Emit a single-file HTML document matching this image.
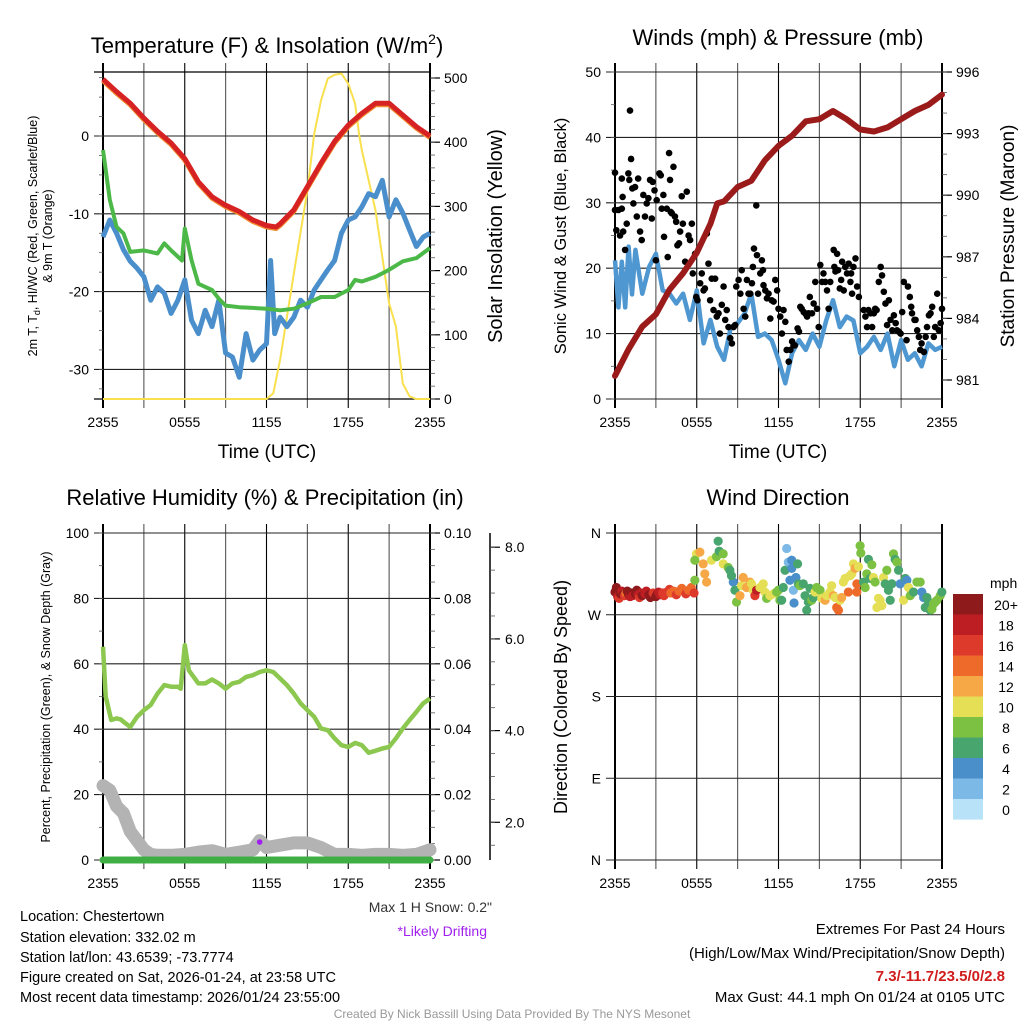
<!DOCTYPE html>
<html><head><meta charset="utf-8"><title>Mesonet Station Summary</title>
<style>
html,body{margin:0;padding:0;background:#fff;}
svg{display:block;font-family:"Liberation Sans",Arial,sans-serif;}
</style></head>
<body>
<svg id="fig" xmlns="http://www.w3.org/2000/svg" width="1024" height="1024" viewBox="0 0 1024 1024">
<rect width="1024" height="1024" fill="#fff"/>
<g id="g-temp"></g>
<g id="g-wind"></g>
<g id="g-rh"></g>
<g id="g-dir"></g>

<text x="267" y="53" font-size="22" text-anchor="middle">Temperature (F) &amp; Insolation (W/m<tspan dy="-9" font-size="14">2</tspan><tspan dy="9">)</tspan></text>
<text x="778" y="45" font-size="22" text-anchor="middle">Winds (mph) &amp; Pressure (mb)</text>
<text x="265" y="505" font-size="22" text-anchor="middle">Relative Humidity (%) &amp; Precipitation (in)</text>
<text x="778" y="505" font-size="22" text-anchor="middle">Wind Direction</text>

<text x="267" y="458" font-size="19" text-anchor="middle">Time (UTC)</text>
<text x="778" y="458" font-size="19" text-anchor="middle">Time (UTC)</text>

<text transform="translate(37,236) rotate(-90)" font-size="12.5" text-anchor="middle">2m T, T<tspan font-size="9" dy="3">d</tspan><tspan dy="-3">, HI/WC (Red, Green, Scarlet/Blue)</tspan></text>
<text transform="translate(52,236) rotate(-90)" font-size="12.5" text-anchor="middle">&amp; 9m T (Orange)</text>
<text transform="translate(502,236) rotate(-90)" font-size="20" text-anchor="middle">Solar Insolation (Yellow)</text>
<text transform="translate(566,236) rotate(-90)" font-size="16.5" text-anchor="middle">Sonic Wind &amp; Gust (Blue, Black)</text>
<text transform="translate(1014,236) rotate(-90)" font-size="19" text-anchor="middle">Station Pressure (Maroon)</text>
<text transform="translate(50,697) rotate(-90)" font-size="12.5" text-anchor="middle">Percent, Precipitation (Green), &amp; Snow Depth (Gray)</text>
<text transform="translate(567,697) rotate(-90)" font-size="18" text-anchor="middle">Direction (Colored By Speed)</text>

<text x="492" y="912" font-size="14" fill="#333" text-anchor="end">Max 1 H Snow: 0.2"</text>
<text x="487" y="936" font-size="14" fill="#a020f0" text-anchor="end">*Likely Drifting</text>

<g font-size="14.5">
<text x="20" y="921">Location: Chestertown</text>
<text x="20" y="942">Station elevation: 332.02 m</text>
<text x="20" y="962">Station lat/lon: 43.6539; -73.7774</text>
<text x="20" y="982">Figure created on Sat, 2026-01-24, at 23:58 UTC</text>
<text x="20" y="1002">Most recent data timestamp: 2026/01/24 23:55:00</text>
</g>
<g font-size="15" text-anchor="end">
<text x="1005" y="934">Extremes For Past 24 Hours</text>
<text x="1005" y="958">(High/Low/Max Wind/Precipitation/Snow Depth)</text>
<text x="1005" y="981" fill="#d01c1c" font-weight="bold">7.3/-11.7/23.5/0/2.8</text>
<text x="1005" y="1002">Max Gust: 44.1 mph On 01/24 at 0105 UTC</text>
</g>
<text x="512" y="1018" font-size="12" fill="#999" text-anchor="middle">Created By Nick Bassill Using Data Provided By The NYS Mesonet</text>
</svg>
<script>
// ---------- DATA ----------
const tempHours = [0,1,2,3,4,5,6,7,8,9,10,11,12,12.7,13,14,15,16,17,18,19,20,21,22,23,24];
const tempValues = [7.3,5.7,4.2,2.3,0.6,-0.9,-2.9,-5.9,-7.8,-8.9,-9.7,-10.8,-11.5,-11.7,-11.3,-9.5,-6.5,-3.5,-0.7,1.4,2.9,4.2,4.2,2.7,1.2,0];
const dewHours = [0,0.5,1,1.5,2,3,4,4.5,5,5.8,6,6.5,7,8,8.5,9,10,11,12,13,14,15,16,17,18,18.5,19,20,21,22,23,24];
const dewValues = [-1.8,-8.2,-11.7,-12.5,-14.9,-14.7,-15.1,-13.8,-14.7,-16,-11.9,-16,-19,-19.8,-20.9,-21.8,-22,-22.1,-22.2,-22.4,-22.2,-21.5,-20.7,-20.7,-19.8,-18.5,-18.7,-18.1,-17.2,-16.1,-15.7,-14.4];
const chillHours = [0,0.5,1,1.5,2,2.5,3,3.5,4,4.5,5,5.5,6,6.5,7,7.5,8,8.5,9,9.5,10,10.5,11,11.5,12,12.3,12.6,13,13.5,14,14.5,15,15.5,16,16.5,17,17.5,18,18.5,19,19.5,20,20.5,21,21.5,22,22.5,23,23.5,24];
const chillValues = [-13,-10.8,-12.5,-14.6,-16.1,-17,-18.1,-21.1,-19.4,-20.2,-22.8,-21.1,-18.5,-23.7,-25.4,-22.4,-24.5,-21.1,-27.9,-28.4,-31,-25.4,-28.8,-27.5,-26.7,-16,-25.4,-23.3,-24.5,-23.3,-21.1,-22,-19.8,-18.5,-17.2,-16,-12.5,-10.8,-10.4,-9.1,-7.4,-7.8,-5.7,-10.4,-8.2,-9.9,-12.1,-14.2,-13,-12.5];
const solarHours = [0,12,12.5,13,14,15,15.5,16,16.5,17,17.5,18,18.5,18.8,19,20,21,21.5,22,22.5,23,24];
const solarValues = [0,0,9,61,195,325,413,465,499,505,507,491,460,411,387,294,149,113,24,4,0,0];

const windHours = [0,0.25,0.5,0.75,1,1.25,1.5,2,2.5,3,3.5,4,4.5,5,5.5,6,6.5,7,7.5,8,8.5,9,9.5,10,10.5,11,11.5,12,12.5,13,13.5,14,14.5,15,15.5,16,16.5,17,17.5,18,18.5,19,19.5,20,20.5,21,21.5,22,22.5,23,23.5,24];
const windValues = [21.2,14,21,14,23.3,16,22.8,16.1,20.2,22.2,16.6,16.1,14.6,16.1,12.1,16.6,8.5,12.1,8,6,11,11.6,13,16.1,9.5,10,9,6,2.4,7,9,7.5,10,8,12,15.1,11,12.6,12,7,8,9.5,7.5,10,5,9,6,7,5,8.5,7.5,8];
const pressHours = [0,1,2,3,4,5,6,7,7.5,8,9,10,11,12,13,14,15,16,17,18,19,20,21,22,23,24];
const pressValues = [981.2,982.5,983.6,984.2,985.4,986.2,987.2,988.6,989.6,989.7,990.4,990.7,991.7,992.4,992.9,993.6,993.7,994.1,993.7,993.2,993.1,993.3,993.7,994.1,994.4,994.9];
const gustHours = [0,0,0.25,0.1,0.37,0.5,0.6,0.56,0.5,0.74,0.86,0.98,1.1,1.05,1.18,1.27,1.35,1.47,1.6,1.7,1.84,1.96,2.08,2.2,2.33,2.45,2.57,2.7,2.77,2.9,3.0,3.06,3.26,3.36,3.43,3.55,3.6,3.8,3.87,3.97,4.04,4.09,4.17,4.29,4.4,4.49,4.58,4.7,4.78,4.9,4.98,5.15,5.27,5.4,5.51,5.64,5.71,5.88,5.96,6.05,6.25,6.37,6.5,6.6,6.74,6.86,6.98,7.1,7.23,7.35,7.47,7.6,7.7,7.84,7.97,8.09,8.2,8.33,8.46,8.58,8.7,8.82,8.9,9.07,9.2,9.3,9.44,9.56,9.68,9.8,9.93,10.05,10.12,10.2,10.37,10.42,10.5,10.66,10.78,10.86,10.9,11.03,11.15,11.27,11.4,11.5,11.64,11.76,11.9,12,12.13,12.25,12.37,12.5,12.6,12.75,12.87,13,13.1,13.2,13.4,13.5,13.6,13.7,13.85,14,14.1,14.2,14.3,14.46,14.58,14.7,14.83,14.95,15.07,15.2,15.3,15.44,15.56,15.68,15.8,16.05,16.1,16.18,16.3,16.37,16.5,16.6,16.67,16.79,16.9,17.03,17.15,17.28,17.33,17.4,17.5,17.65,17.77,17.9,18.26,18.38,18.5,18.6,18.75,18.87,19,19.1,19.2,19.36,19.5,19.6,19.73,19.85,19.97,20.1,20.22,20.35,20.47,20.6,20.7,20.83,20.96,21.08,21.2,21.4,21.5,21.64,21.74,21.8,21.98,22.06,22.18,22.3,22.4,22.5,22.67,22.8,22.9,23.04,23.16,23.28,23.4,23.5,23.65,23.77,23.9,24];
const gustValues = [34.6,28.9,28.9,25.8,25,29.1,25.6,30.9,33.7,22.8,26.8,34.5,44.1,33.5,36.7,32.2,29.9,32.4,27.9,33.7,25.6,24.3,31.2,27.9,29.9,30.7,33.5,27.6,33.2,31.9,21.2,30.4,34.5,34.2,29.1,31.2,24.8,29.1,21.7,37.6,33.5,28.6,28.4,35.5,27.9,27.1,23.5,23.8,25.6,31,26.8,21,31.7,25,24.3,26.8,19.2,22.2,15.6,15.1,17.7,19.2,16.6,16.9,25.3,20.7,15.1,18.4,13.6,18.4,12.6,13.1,10,14.4,17.2,12.1,13.6,11,9.3,8.5,11,11.3,17.2,18.2,16.1,19.7,13.8,12.6,18.2,16.1,16.1,17.7,20.2,23,29.6,22,16.1,19.2,21.2,19.7,17.4,16.6,15.4,16.1,12.3,15.1,14.9,18.2,16.6,13.8,12.6,10,13.6,11.8,7.5,5.7,7.5,8.8,8.2,8.2,10.8,10.3,14.1,13.8,13.3,13,12.6,13.1,15.6,13.1,14.6,17.9,13.8,11,20.5,17.9,19.2,17.9,16.6,13.8,17.9,22.8,20.2,19.5,22.2,19.7,16.9,18.2,21,16.6,20.2,19.2,20.7,17.9,19.2,16.1,20.2,21.5,17.2,15.6,13.6,12.6,11,13.6,13.1,11,13.1,13.8,13.6,17.9,20.2,18.9,16.4,14.6,11.3,15.1,12.1,10.5,12.8,11.6,10.5,10.3,10,13.3,17.9,9,17.2,15.6,14.1,13.1,12.1,12.1,10.5,9.5,7.5,8.5,7.2,9.5,11,12.8,13.1,14.1,9.5,11,16.1,10.5,11.6,13.8];

const rhHours = [0,0.2,0.6,1,1.3,1.5,2,2.5,3,3.5,4,4.5,5,5.5,5.7,6,6.3,7,7.5,8,8.5,9,9.5,10,10.5,11,11.5,12,12.5,13,13.5,14,14.5,15,15.5,16,16.5,17,17.5,18,18.5,19,19.5,20,20.5,21,21.5,22,22.5,23,23.5,24];
const rhValues = [65.2,50,42.8,43.3,43,42.3,40.7,43.8,45.8,47.4,50.9,53.5,53,53,52.4,65.7,58,54,54,55.2,54,52.4,54,54.5,56,56.5,57.5,58,57.5,55.5,53.5,50.9,47.9,45.8,43.8,40.2,39.7,37.2,35.1,34.6,35.8,35.1,32.8,33.4,34.1,34.6,37.2,40.2,42.8,45.3,47.9,49.4];
const snowHours = [0,0.5,1,1.5,2,2.5,3,3.5,4,5,6,7,8,9,10,11,11.5,12,13,14,15,16,17,18,19,20,21,22,23,23.5,24];
const snowValues = [2.8,2.7,2.35,2.2,1.8,1.6,1.4,1.3,1.28,1.28,1.3,1.35,1.38,1.3,1.35,1.4,1.6,1.45,1.5,1.55,1.55,1.45,1.3,1.3,1.28,1.3,1.3,1.28,1.3,1.35,1.4];
const precipHours = [0,24];
const precipValues = [0,0];
const driftHours = [11.5];
const driftValues = [0.0055];

const dirHours = [0,0.1,0.2,0.3,0.4,0.5,0.6,0.7,0.8,0.9,1.0,1.1,1.2,1.3,1.5,1.6,1.7,1.8,1.9,2.0,2.2,2.3,2.5,2.6,2.7,2.8,3.0,3.1,3.2,3.3,3.5,3.6,3.8,4.0,4.1,4.3,4.5,4.7,4.9,5.0,5.2,5.4,5.6,5.8,
5.98,6.23,6.47,6.72,6.59,7.08,7.45,7.57,7.65,7.94,7.94,8.31,8.43,8.68,8.55,8.8,8.92,5.86,5.86,
9.17,9.29,9.41,9.66,9.9,10.02,10.15,10.27,10.39,10.64,10.88,11.0,11.13,11.37,11.62,11.86,11.99,12.1,12.23,12.35,12.48,12.6,12.72,12.84,12.97,12.97,13.09,13.14,13.28,13.4,13.46,
13.58,13.82,13.95,14.07,14.19,14.31,14.44,14.56,14.68,14.8,15.05,15.17,15.42,15.54,15.78,15.9,16.03,16.15,16.27,16.4,16.52,16.64,16.76,16.89,17.13,17.25,17.38,17.5,17.62,17.75,17.75,17.87,17.99,18.04,
18.24,18.36,18.48,18.6,18.73,18.85,18.97,19.09,19.22,19.34,19.46,19.58,19.71,19.83,19.95,20.07,20.2,20.32,20.44,20.56,20.69,20.81,20.93,21.18,21.3,21.42,21.54,21.67,21.91,22.16,22.4,22.52,22.65,22.77,22.89,23.01,23.14,23.26,23.38,23.5,23.63,23.87,23.99];
const dirValues = [295,300,290,288,293,296,292,291,294,296,292,290,294,291,293,297,292,289,294,291,293,296,292,289,291,294,290,293,295,292,294,291,295,298,294,296,292,296,299,296,293,297,300,294,
337,339,326,306,315,330,334,351,340,337,326,322,319,306,313,297,284,308,330,
291,302,311,300,306,304,297,291,297,300,304,295,288,291,293,295,297,286,286,300,319,343,328,308,330,321,297,283,311,326,304,
302,304,291,275,284,299,286,289,295,300,297,288,286,291,295,302,291,289,278,275,286,289,306,310,295,313,315,326,321,304,295,323,346,338,
306,300,315,331,310,325,311,306,278,288,286,280,311,304,319,297,286,304,337,331,328,319,304,286,310,308,300,291,295,306,306,295,289,278,289,284,275,276,282,284,286,291,295];
const dirSpeeds = [20,21,18,16,20,19,21,17,15,20,20,19,21,18,20,21,19,17,18,20,19,18,20,21,20,17,20,21,19,18,16,17,16,17,14,15,16,14,14,15,16,15,14,16,
10,13,12,12,12,10,8,6,6,8,10,8,6,4,6,6,8,8,8,
12,10,12,12,12,10,10,16,18,10,10,10,8,10,10,8,8,8,6,6,6,2,2,4,4,4,2,4,4,6,6,
8,6,6,6,6,6,8,6,10,8,8,10,12,10,10,10,12,10,14,14,10,12,10,10,14,10,10,10,12,14,14,10,8,8,
6,8,8,6,6,8,10,8,10,10,10,10,10,6,8,6,6,6,8,6,8,6,4,10,6,4,10,8,6,8,8,4,4,6,6,6,6,8,8,8,8,8,6];
const speedBinLabels = ["20+","18","16","14","12","10","8","6","4","2","0"];
const speedBinColors = ["#8e1a1c","#bd1e24","#dd3a2b","#ee6a2b","#f5a845","#e5df56","#7dc142","#49a56e","#4a8fca","#7db9e6","#b7e2f8"];

const xTickHours = [0,6,12,18,24];
const xTickLabels = ["2355","0555","1155","1755","2355"];
const tempTicks = [0,-10,-20,-30];
const solarTicks = [0,100,200,300,400,500];
const windTicks = [0,10,20,30,40,50];
const pressTicks = [981,984,987,990,993,996];
const rhTicks = [0,20,40,60,80,100];
const precipTicks = [0,0.02,0.04,0.06,0.08,0.10];
const snowTicks = [2,4,6,8];
const dirTicks = [0,90,180,270,360];
const dirTickLabels = ["N","E","S","W","N"];

// ---------- HELPERS ----------
const NS = "http://www.w3.org/2000/svg";
function mk(tag, attrs, parent){
  const e = document.createElementNS(NS, tag);
  for (const k in attrs) e.setAttribute(k, attrs[k]);
  parent.appendChild(e);
  return e;
}
function lin(d0,d1,r0,r1){ return v => r0 + (v-d0)*(r1-r0)/(d1-d0); }
function pathD(xs, ys, fx, fy){
  return xs.map((t,i)=>(i?"L":"M")+fx(t).toFixed(1)+","+fy(ys[i]).toFixed(1)).join("");
}
function frame(g, L, R, T, B, name){
  const fx = lin(0,24,L,R);
  for (let h=0; h<=24; h+=3){
    const ln = mk("line",{x1:fx(h),x2:fx(h),y1:T-9,y2:B+9,stroke:(h%6===0?"#000":"#555"),"stroke-width":(h===0||h===24)?2:1.1},g);
    
    
  }
  xTickHours.forEach((h,i)=>{
    const t = mk("text",{x:fx(h),y:B+28,"font-size":14,"text-anchor":"middle"},g);
    t.textContent = xTickLabels[i];
    
    
  });
  return fx;
}
function hgrid(g, L, R, fy, ticks, labels, name){
  ticks.forEach((v,i)=>{
    const ln = mk("line",{x1:L-9,x2:R,y1:fy(v),y2:fy(v),stroke:"#222","stroke-width":1.1},g);
    
    
    const t = mk("text",{x:L-14,y:fy(v)+5,"font-size":14,"text-anchor":"end"},g);
    t.textContent = labels ? labels[i] : String(v);
    
    
  });
}
function leftMinor(g, L, fy, lo, hi, step, name){
  for (let v=lo; v<=hi+1e-9; v+=step){
    const ln = mk("line",{x1:L-4,x2:L,y1:fy(v),y2:fy(v),stroke:"#555","stroke-width":0.8},g);
    
    
  }
}
function rightAxis(g, R, fy, ticks, fmt, name, minorStep, lo, hi){
  ticks.forEach(v=>{
    const ln = mk("line",{x1:R,x2:R+10,y1:fy(v),y2:fy(v),stroke:"#000","stroke-width":1.2},g);
    
    
    const t = mk("text",{x:R+14,y:fy(v)+5,"font-size":14},g);
    t.textContent = fmt(v);
    
    
  });
  for (let v=lo; v<=hi+1e-9; v+=minorStep){
    const ln = mk("line",{x1:R,x2:R+5,y1:fy(v),y2:fy(v),stroke:"#555","stroke-width":0.8},g);
    
    
  }
}

// ---------- TEMPERATURE PANEL ----------
(function(){
  const g = document.getElementById("g-temp");
  const L=103,R=430,T=72,B=399;
  const fx = frame(g,L,R,T,B,"temp");
  const fy = lin(0,-10,136,213.8);
  const fs = lin(0,500,399,78);
  hgrid(g,L,R,fy,tempTicks,null,"temp");
  leftMinor(g,L,fy,-32.5,7.5,2.5,"temp");
  mk("line",{x1:L-9,x2:R,y1:T,y2:T,stroke:"#000","stroke-width":1.3},g);
  mk("line",{x1:L-9,x2:R,y1:B,y2:B,stroke:"#000","stroke-width":1.3},g);
  rightAxis(g,R,fs,solarTicks,v=>String(v),"solar",20,0,500);
  const s = mk("path",{d:pathD(solarHours,solarValues,fx,fs),fill:"none",stroke:"#f8e04e","stroke-width":2},g);
  
  
  const c = mk("path",{d:pathD(chillHours,chillValues,fx,fy),fill:"none",stroke:"#4a8fcc","stroke-width":5,"stroke-linejoin":"round"},g);
  
  
  const d = mk("path",{d:pathD(dewHours,dewValues,fx,fy),fill:"none",stroke:"#4cb848","stroke-width":4,"stroke-linejoin":"round"},g);
  
  
  const o = mk("path",{d:pathD(tempHours,tempValues,fx,v=>fy(v)+1.5),fill:"none",stroke:"#f28a30","stroke-width":5},g);
  
  
  const r = mk("path",{d:pathD(tempHours,tempValues,fx,fy),fill:"none",stroke:"#d62222","stroke-width":5,"stroke-linejoin":"round"},g);
  
  
})();

// ---------- WIND PANEL ----------
(function(){
  const g = document.getElementById("g-wind");
  const L=615,R=942,T=72,B=399;
  const fx = frame(g,L,R,T,B,"wind");
  const fy = lin(0,50,399,72);
  const fp = lin(981,996,380,72);
  hgrid(g,L,R,fy,windTicks,null,"wind");
  leftMinor(g,L,fy,0,50,5,"wind");
  rightAxis(g,R,fp,pressTicks,v=>String(v),"pressure",1,981,996);
  const w = mk("path",{d:pathD(windHours,windValues,fx,fy),fill:"none",stroke:"#4f97d1","stroke-width":4.5,"stroke-linejoin":"round"},g);
  
  
  gustHours.forEach((t,i)=>{
    const p = mk("circle",{cx:fx(t),cy:fy(gustValues[i]),r:3.3,fill:"#000"},g);
    
    
  });
  const pr = mk("path",{d:pathD(pressHours,pressValues,fx,fp),fill:"none",stroke:"#9b1b1b","stroke-width":6,"stroke-linejoin":"round","stroke-linecap":"round"},g);
  
  
})();

// ---------- RH PANEL ----------
(function(){
  const g = document.getElementById("g-rh");
  const L=103,R=430,T=533,B=860;
  const fx = frame(g,L,R,T,B,"rh");
  const fy = lin(0,100,860,533);
  const fpp = lin(0,0.1,860,533);
  const fsn = lin(0,2,914,822.3);
  hgrid(g,L,R,fy,rhTicks,null,"rh");
  leftMinor(g,L,fy,0,100,10,"rh");
  rightAxis(g,R,fpp,precipTicks,v=>v.toFixed(2),"precip",0.005,0,0.1);
  const ax = mk("line",{x1:490,x2:490,y1:533,y2:860,stroke:"#000","stroke-width":1.5},g);
  
  
  snowTicks.forEach(v=>{
    const ln = mk("line",{x1:490,x2:500,y1:fsn(v),y2:fsn(v),stroke:"#000","stroke-width":1.2},g);
    
    
    const t = mk("text",{x:505,y:fsn(v)+5,"font-size":14},g);
    t.textContent = v.toFixed(1);
    
    
  });
  for (let v=1; v<=8; v+=0.5){
    if (fsn(v)>860) continue;
    const ln = mk("line",{x1:490,x2:495,y1:fsn(v),y2:fsn(v),stroke:"#555","stroke-width":0.8},g);
    
    
  }
  const sn = mk("path",{d:pathD(snowHours,snowValues,fx,fsn),fill:"none",stroke:"#b3b3b3","stroke-width":13,"stroke-linejoin":"round","stroke-linecap":"round"},g);
  
  
  const pp = mk("path",{d:pathD(precipHours,precipValues,fx,fpp),fill:"none",stroke:"#3fae45","stroke-width":7,"stroke-linecap":"round"},g);
  
  
  const rh = mk("path",{d:pathD(rhHours,rhValues,fx,fy),fill:"none",stroke:"#8cc84f","stroke-width":4.5,"stroke-linejoin":"round"},g);
  
  
  driftHours.forEach((t,i)=>{
    const dp = mk("circle",{cx:fx(t),cy:fpp(driftValues[i]),r:2.8,fill:"#a020f0"},g);
    
    
  });
})();

// ---------- DIRECTION PANEL ----------
(function(){
  const g = document.getElementById("g-dir");
  const L=615,R=942,T=533,B=860;
  const fx = frame(g,L,R,T,B,"dir");
  const fy = lin(0,360,860,533);
  hgrid(g,L,R,fy,dirTicks,dirTickLabels,"dir");
  dirHours.forEach((t,i)=>{
    const bin = Math.min(10, Math.floor(dirSpeeds[i]/2));
    const p = mk("circle",{cx:fx(t),cy:fy(dirValues[i]),r:4.6,fill:speedBinColors[10-bin]},g);
    
    
  });
  const lg = mk("g",{},g);
  
  
  const mt = mk("text",{x:990,y:588,"font-size":14},lg);
  mt.textContent = "mph";
  
  
  speedBinLabels.forEach((lab,i)=>{
    const rc = mk("rect",{x:953,y:594+i*20.5,width:30,height:20.6,fill:speedBinColors[i]},lg);
    
    
    const tx = mk("text",{x:1006,y:594+i*20.5+16,"font-size":14,"text-anchor":"middle"},lg);
    tx.textContent = lab;
    
    
  });
})();
</script>
</body></html>
